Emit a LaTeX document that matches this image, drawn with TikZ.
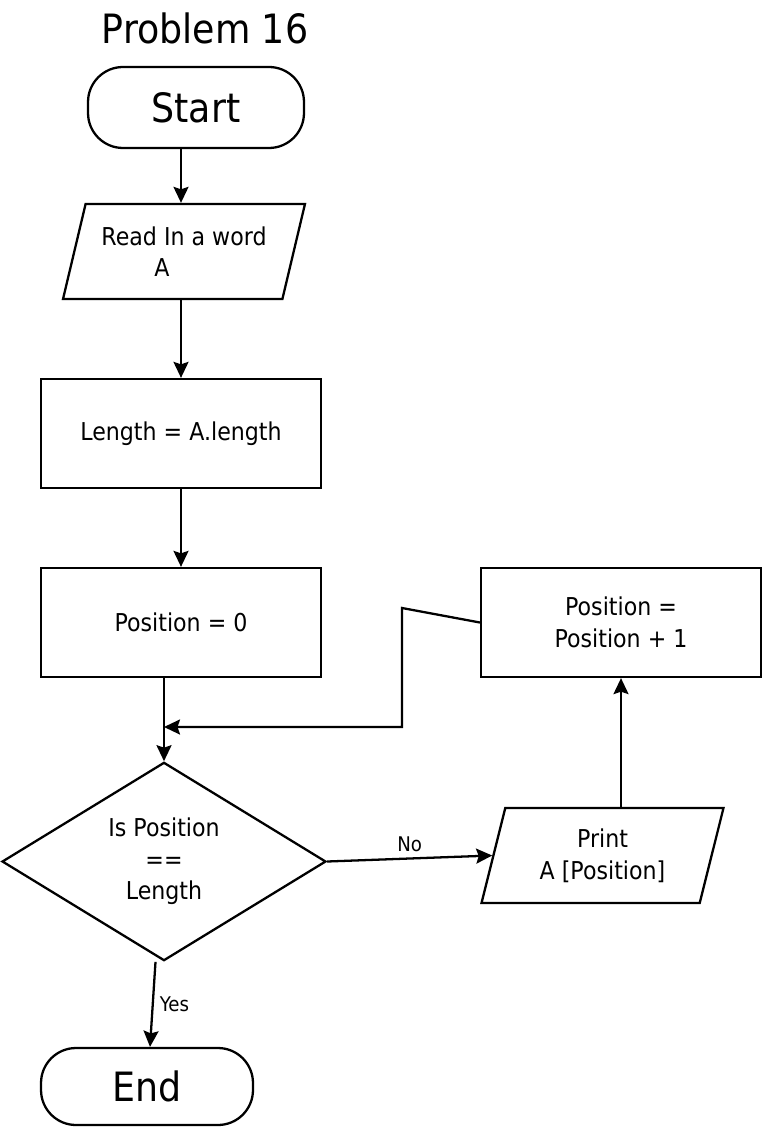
\documentclass[tikz,border=0pt]{standalone}
\usepackage{fontspec}
\setmainfont{DejaVu Sans}[FakeStretch=0.9]
\usetikzlibrary{shapes.geometric,arrows.meta}

\begin{document}
\begin{tikzpicture}[x=0.02cm,y=-0.02cm,line width=1.3pt,
  >={Stealth[length=3.2mm,width=3mm,inset=0.5mm]},
  terminal/.style={draw,rectangle,rounded corners=0.7cm,font=\fontsize{23}{28}\selectfont},
  process/.style={draw,rectangle,minimum width=5.6cm,minimum height=2.18cm,align=center,font=\fontsize{14}{18}\selectfont},
  io/.style={draw,trapezium,trapezium left angle=70,trapezium right angle=110,trapezium stretches body,minimum width=4.84cm,minimum height=1.9cm,align=center,font=\fontsize{14}{18}\selectfont},
  decision/.style={draw,diamond,minimum width=6.48cm,minimum height=3.74cm,inner sep=0pt,align=center,font=\fontsize{14}{18}\selectfont},
  edgelabel/.style={font=\fontsize{11.5}{13}\selectfont}]
\path [draw=none,fill=white] (0,0) rectangle (764,1128);
\node[font=\fontsize{23}{28}\selectfont] (title) at (205,28) {Problem 16};
\node[terminal,minimum width=4.32cm,minimum height=1.62cm] (start) at (196,107.5) {Start};
\node[io] (read) at (184,251.5) {Read In a word\\A\hspace*{25pt}};
\node[process] (length) at (181,433.5) {Length = A.length};
\node[process] (pos0) at (181,622.5) {Position = 0};
\node[decision] (test) at (164,861.5) {Is Position\\==\\Length};
\node[process] (incr) at (621,622.5) {Position =\\Position + 1};
\node[io] (print) at (602.5,855.5) {Print\\A [Position]};
\node[terminal,minimum width=4.24cm,minimum height=1.54cm] (end) at (147,1086.5) {End};
\coordinate (bendA) at (402,608);
\coordinate (bendB) at (402,727);
\draw [->] (start.south -| length.north) to (read.north -| length.north);
\draw [->] (read.south -| length.north) to (length.north);
\draw [->] (length.south) to (pos0.north);
\draw [->] (pos0.south -| test.north) to (test.north);
\draw [->] (incr.west) -- (bendA) -- (bendB) -- (bendB -| test.north);
\draw [->] (print.north -| incr.south) to (incr.south);
\draw [->] (test.east) to node[edgelabel,above] {No} (print.west);
\draw [->] ([xshift=-0.17cm]test.south) to node[edgelabel,right] {Yes} ([xshift=0.06cm]end.north);
\end{tikzpicture}
\end{document}
